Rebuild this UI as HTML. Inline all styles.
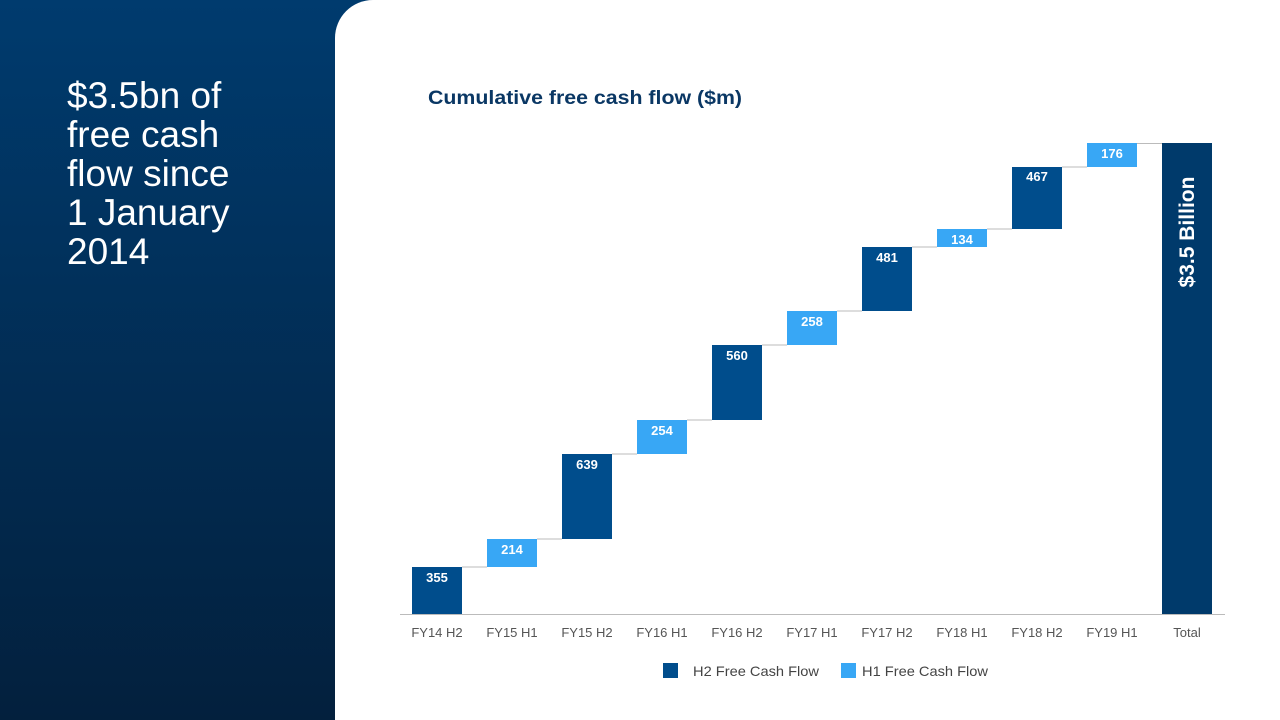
<!DOCTYPE html>
<html><head><style>
body{margin:0;width:1280px;height:720px;overflow:hidden;font-family:"Liberation Sans",sans-serif;}
.left{position:absolute;left:0;top:0;width:380px;height:720px;background:linear-gradient(#003b6e,#03203d);}
.panel{position:absolute;left:335px;top:0;width:945px;height:720px;background:#fff;border-top-left-radius:38px;}
.title{position:absolute;left:67px;top:76px;color:#fff;font-size:37px;line-height:39px;}
</style></head><body>
<div class="left"></div><div class="panel"></div>
<div class="title">$3.5bn of<br>free cash<br>flow since<br>1 January<br>2014</div>
<svg style="position:absolute;left:0;top:0" width="1280" height="720" font-family="Liberation Sans, sans-serif">
<text x="428" y="104" font-size="19" font-weight="bold" fill="#0a3764" textLength="314" lengthAdjust="spacingAndGlyphs">Cumulative free cash flow ($m)</text>
<g stroke="#bbb" stroke-width="1">
<line x1="462" y1="567" x2="487" y2="567"/><line x1="537" y1="539" x2="562" y2="539"/>
<line x1="612" y1="454" x2="637" y2="454"/><line x1="687" y1="420" x2="712" y2="420"/>
<line x1="762" y1="345" x2="787" y2="345"/><line x1="837" y1="311" x2="862" y2="311"/>
<line x1="912" y1="247" x2="937" y2="247"/><line x1="987" y1="229" x2="1012" y2="229"/>
<line x1="1062" y1="167" x2="1087" y2="167"/><line x1="1137" y1="143.5" x2="1162" y2="143.5"/>
<line x1="400" y1="614.5" x2="1225" y2="614.5"/>
</g>
<g fill="#004d8c">
<rect x="412" y="567" width="50" height="47"/><rect x="562" y="454" width="50" height="85"/>
<rect x="712" y="345" width="50" height="75"/><rect x="862" y="247" width="50" height="64"/>
<rect x="1012" y="167" width="50" height="62"/>
</g>
<g fill="#38a7f5">
<rect x="487" y="539" width="50" height="28"/><rect x="637" y="420" width="50" height="34"/>
<rect x="787" y="311" width="50" height="34"/><rect x="937" y="229" width="50" height="18"/>
<rect x="1087" y="143" width="50" height="24"/>
</g>
<rect x="1162" y="143" width="50" height="471" fill="#003a6b"/>
<text transform="translate(1194,232) rotate(-90)" text-anchor="middle" font-size="21" font-weight="bold" fill="#fff">$3.5 Billion</text>
<g fill="#fff" font-size="13" font-weight="bold" text-anchor="middle">
<text x="437" y="582">355</text><text x="512" y="554">214</text><text x="587" y="469">639</text>
<text x="662" y="435">254</text><text x="737" y="360">560</text><text x="812" y="326">258</text>
<text x="887" y="262">481</text><text x="962" y="244">134</text><text x="1037" y="181">467</text>
<text x="1112" y="158">176</text>
</g>
<g fill="#555" font-size="13" text-anchor="middle">
<text x="437" y="637">FY14 H2</text><text x="512" y="637">FY15 H1</text><text x="587" y="637">FY15 H2</text>
<text x="662" y="637">FY16 H1</text><text x="737" y="637">FY16 H2</text><text x="812" y="637">FY17 H1</text>
<text x="887" y="637">FY17 H2</text><text x="962" y="637">FY18 H1</text><text x="1037" y="637">FY18 H2</text>
<text x="1112" y="637">FY19 H1</text><text x="1187" y="637">Total</text>
</g>
<rect x="663" y="663" width="15" height="15" fill="#004d8c"/>
<text x="693" y="676" font-size="14" fill="#444" textLength="126" lengthAdjust="spacingAndGlyphs">H2 Free Cash Flow</text>
<rect x="841" y="663" width="15" height="15" fill="#38a7f5"/>
<text x="862" y="676" font-size="14" fill="#444" textLength="126" lengthAdjust="spacingAndGlyphs">H1 Free Cash Flow</text>
</svg>
</body></html>
